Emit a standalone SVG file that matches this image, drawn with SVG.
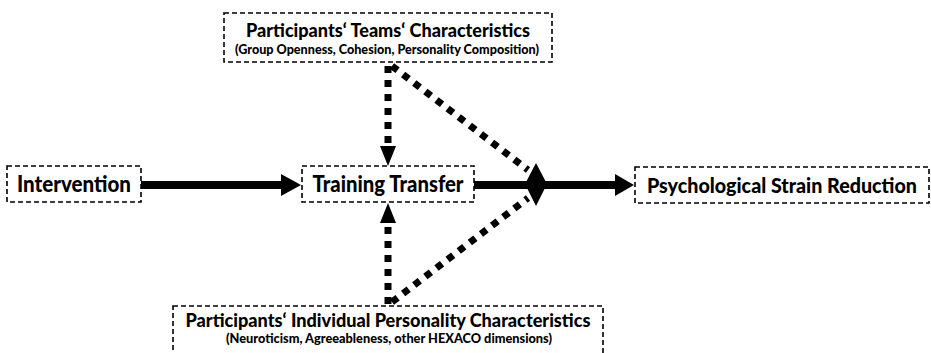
<svg xmlns="http://www.w3.org/2000/svg" width="931" height="353" viewBox="0 0 931 353">
<style>
.box{fill:#fff;stroke:#000;stroke-width:1.6;stroke-dasharray:5 3}
.t{font-family:Lato,"Open Sans","Liberation Sans",sans-serif;font-weight:900;fill:#000;text-anchor:middle}
.big{font-size:22.5px}
.mid{font-size:19px}
.small{font-size:12.5px}
.solid{stroke:#000;stroke-width:8;fill:none}
.dot{stroke:#000;stroke-width:7;fill:none;stroke-dasharray:7 7}
.head{fill:#000}
</style>
<rect width="931" height="353" fill="#fff"/>
<g id="connectors">
  <line class="solid" x1="141" y1="185" x2="284" y2="185"/>
  <polygon class="head" points="281,174 301,185 281,196"/>
  <line class="solid" x1="474" y1="185" x2="618" y2="185"/>
  <polygon class="head" points="615,174 634,185 615,196"/>
  <polygon class="head" points="536,163 547,184 536,206 525,184"/>
  <line class="dot" x1="388" y1="66" x2="388" y2="146"/>
  <polygon class="head" points="380,146 396,146 388,166"/>
  <line class="dot" x1="388" y1="304" x2="388" y2="223"/>
  <polygon class="head" points="388,203 380,223 396,223"/>
  <line class="dot" x1="392" y1="66" x2="528" y2="170"/>
  <line class="dot" x1="392" y1="302" x2="528" y2="198"/>
</g>
<g id="node-teams">
  <rect class="box" x="224" y="13" width="328" height="49"/>
  <text class="t mid" x="388" y="37" textLength="284" lengthAdjust="spacingAndGlyphs">Participants‘ Teams‘ Characteristics</text>
  <text class="t small" x="387" y="54" textLength="304" lengthAdjust="spacingAndGlyphs">(Group Openness, Cohesion, Personality Composition)</text>
</g>
<g id="node-intervention">
  <rect class="box" x="7" y="166" width="134" height="36"/>
  <text class="t big" x="74" y="192" textLength="114" lengthAdjust="spacingAndGlyphs">Intervention</text>
</g>
<g id="node-training">
  <rect class="box" x="302" y="166" width="172" height="36"/>
  <text class="t big" x="388" y="192" textLength="151" lengthAdjust="spacingAndGlyphs">Training Transfer</text>
</g>
<g id="node-strain">
  <rect class="box" x="635" y="167" width="294" height="36"/>
  <text class="t" x="782" y="193" font-size="20.5" textLength="270" lengthAdjust="spacingAndGlyphs">Psychological Strain Reduction</text>
</g>
<g id="node-individual">
  <rect class="box" x="173" y="306" width="430" height="60"/>
  <text class="t mid" x="388" y="327" textLength="405" lengthAdjust="spacingAndGlyphs">Participants‘ Individual Personality Characteristics</text>
  <text class="t small" x="389" y="343" textLength="326" lengthAdjust="spacingAndGlyphs">(Neuroticism, Agreeableness, other HEXACO dimensions)</text>
</g>
</svg>
